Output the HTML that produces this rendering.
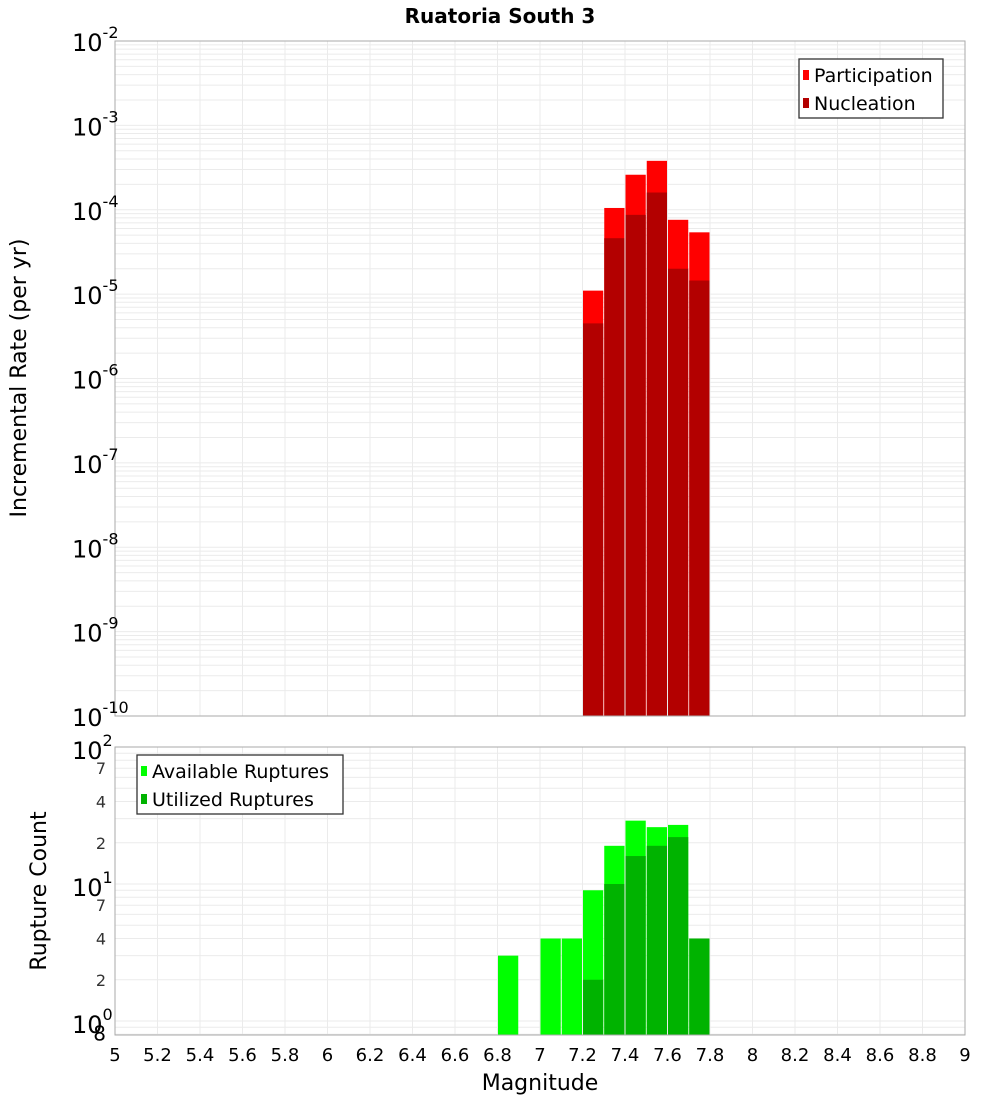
<!DOCTYPE html>
<html><head><meta charset="utf-8"><style>
body{margin:0;background:#fff;font-family:"DejaVu Sans","Liberation Sans",sans-serif}
</style></head><body>
<svg id="c" width="1000" height="1100" xmlns="http://www.w3.org/2000/svg" font-family="DejaVu Sans, Liberation Sans, sans-serif"></svg>
<script>
const binStarts=[7.2,7.3,7.4,7.5,7.6,7.7];
const participation=[1.1e-5,1.05e-4,2.6e-4,3.8e-4,7.6e-5,5.4e-5];
const nucleation=[4.5e-6,4.6e-5,8.7e-5,1.6e-4,2.0e-5,1.45e-5];
const countBins=[6.8,7.0,7.1,7.2,7.3,7.4,7.5,7.6,7.7];
const available=[3,4,4,9,19,29,26,27,4];
const utilized=[0,0,0,2,10,16,19,22,4];
const xTicks=[5,5.2,5.4,5.6,5.8,6,6.2,6.4,6.6,6.8,7,7.2,7.4,7.6,7.8,8,8.2,8.4,8.6,8.8,9];

const S=document.getElementById('c');const NS='http://www.w3.org/2000/svg';
function el(t,a,p){const e=document.createElementNS(NS,t);for(const k in a)e.setAttribute(k,a[k]);(p||S).appendChild(e);return e;}
const X0=115,X1=965;
const x=m=>X0+(m-5)/4*(X1-X0);
const T0=41,T1=716;const yT=v=>T0+(-2-Math.log10(v))*(T1-T0)/8;
const B0=747,D=137;const yB=v=>B0+(2-Math.log10(v))*D;const B1=1035;

// grids
function grid(top,bot,yf,lo,hi){
  for(let d=lo;d<hi;d++)for(let k=1;k<10;k++){const yy=yf(k*Math.pow(10,d));if(yy>=top&&yy<=bot){const l=el('line',{x1:X0,x2:X1,y1:yy,y2:yy,stroke:'#ebebeb','stroke-width':1});}}
  xTicks.forEach(m=>{const l=el('line',{x1:x(m),x2:x(m),y1:top,y2:bot,stroke:'#ebebeb','stroke-width':1});});
}
grid(T0,T1,yT,-10,-1);grid(B0,B1,yB,-1,2);

const bw=x(5.1)-x(5);
binStarts.forEach((m,i)=>{
  let r=el('rect',{x:x(m)+0.5,y:yT(participation[i]),width:bw-1,height:T1-yT(participation[i]),fill:'#ff0000'});
  
  r=el('rect',{x:x(m)+0.5,y:yT(nucleation[i]),width:bw-1,height:T1-yT(nucleation[i]),fill:'#b30000'});
  
});
countBins.forEach((m,i)=>{
  let r=el('rect',{x:x(m)+0.5,y:yB(available[i]),width:bw-1,height:B1-yB(available[i]),fill:'#00ff00'});
  
  if(utilized[i]>0){r=el('rect',{x:x(m)+0.5,y:yB(utilized[i]),width:bw-1,height:B1-yB(utilized[i]),fill:'#00b300'});
  }
});
// frames
el('rect',{x:X0,y:T0,width:X1-X0,height:T1-T0,fill:'none',stroke:'#aaa'});
el('rect',{x:X0,y:B0,width:X1-X0,height:B1-B0,fill:'none',stroke:'#aaa'});

function txt(s,a,name){const t=el('text',a);t.textContent=s;return t;}
txt('Ruatoria South 3',{x:500,y:23,'text-anchor':'middle','font-size':20,'font-weight':'bold'},'chart-title');
// top y labels
for(let d=-10;d<=-2;d++){const yy=yT(Math.pow(10,d));
  const t=txt('',{x:72,y:yy+10,'font-size':24},'y-tick-label');
  const a=el('tspan',{},t);a.textContent='10';const b=el('tspan',{dy:-13,'font-size':16},t);b.textContent=String(d);}
// bottom y labels
[0,1,2].forEach(d=>{const yy=yB(Math.pow(10,d));const t=txt('',{x:72,y:yy+12,'font-size':24},'y-tick-label');
  const a=el('tspan',{},t);a.textContent='10';const b=el('tspan',{dy:-13,'font-size':16},t);b.textContent=String(d);});
[[2,'2'],[4,'4'],[7,'7'],[20,'2'],[40,'4'],[70,'7'],[0.8,'8']].forEach(([v,s])=>{
  txt(s,{x:106,y:yB(v)+6,'text-anchor':'end','font-size':v===0.8?20:16,fill:v===0.8?'#000':'#333'},'y-minor-tick-label');});
xTicks.forEach(m=>txt(String(m),{x:x(m),y:1061,'text-anchor':'middle','font-size':18},'x-tick-label'));
txt('Magnitude',{x:540,y:1090,'text-anchor':'middle','font-size':22},'x-axis-title');
txt('Incremental Rate (per yr)',{x:0,y:0,'text-anchor':'middle','font-size':22,transform:'translate(26,378) rotate(-90)'},'y-axis-title-top');
txt('Rupture Count',{x:0,y:0,'text-anchor':'middle','font-size':22,transform:'translate(46,891) rotate(-90)'},'y-axis-title-bottom');
// legends
function legend(x0,y0,w,items,name){const g=el('g',{});
  el('rect',{x:x0,y:y0,width:w,height:59,fill:'#fff',stroke:'#333','stroke-width':1.3},g);
  items.forEach((it,i)=>{el('rect',{x:x0+4,y:y0+11+i*28,width:6,height:10,fill:it[1]},g);
    const t=el('text',{x:x0+15,y:y0+23+i*28,'font-size':19},g);t.textContent=it[0];});}
legend(799,59,144,[['Participation','#ff0000'],['Nucleation','#b30000']],'legend-top');
legend(137,755,206,[['Available Ruptures','#00ff00'],['Utilized Ruptures','#00b300']],'legend-bottom');
</script></body></html>
